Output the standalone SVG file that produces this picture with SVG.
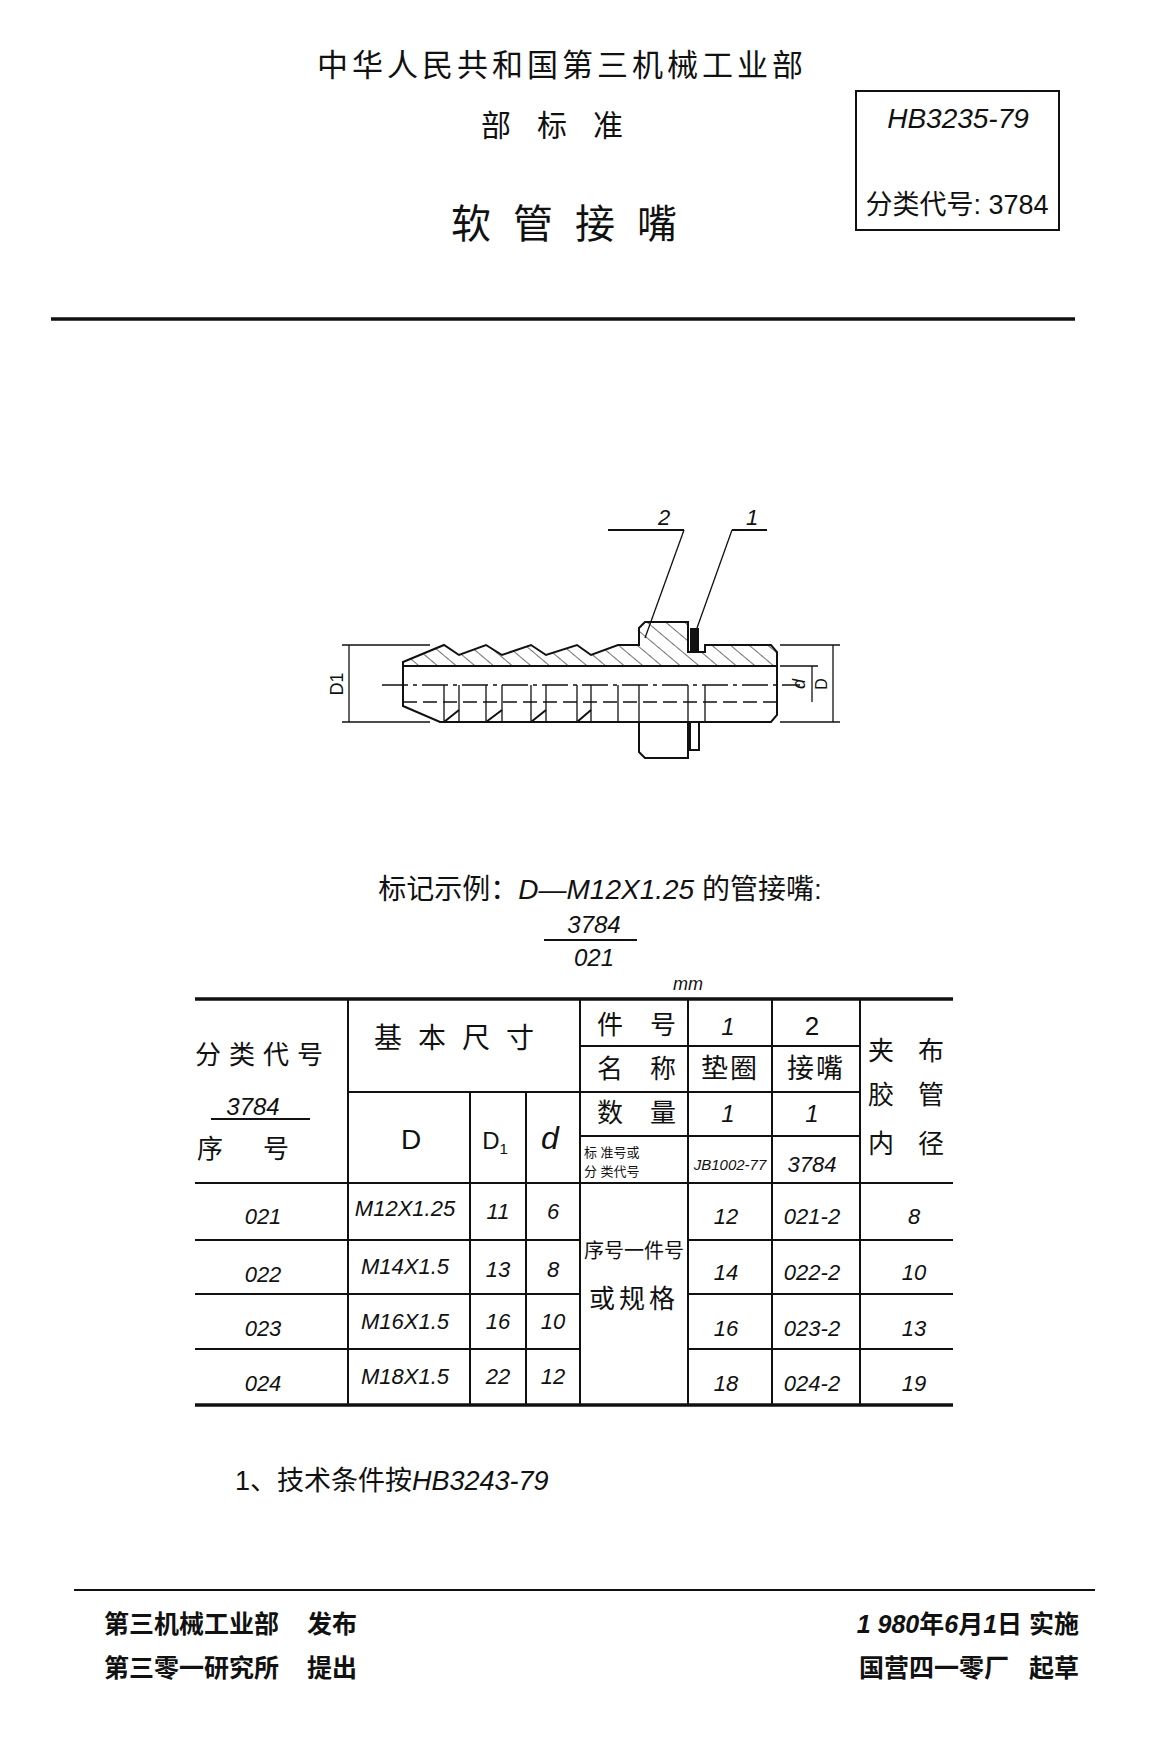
<svg xmlns="http://www.w3.org/2000/svg" width="1152" height="1739" viewBox="0 0 1152 1739">
<defs>
<style>
text{font-family:"Liberation Sans","Noto Sans CJK SC",sans-serif;fill:#111}
.c{text-anchor:middle}
.l{stroke:#111;stroke-width:2;fill:none}
.t{stroke:#111;stroke-width:3.5;fill:none}
.th{stroke:#111;stroke-width:1.3;fill:none}
</style>
<pattern id="h" width="12" height="12" patternUnits="userSpaceOnUse" patternTransform="rotate(-50)">
<line x1="0" y1="0" x2="0" y2="12" stroke="#111" stroke-width="1.2"/>
</pattern>
</defs>
<rect width="1152" height="1739" fill="#fff"/>
<g id="header">
<text x="562" y="76" class="c" font-size="31" letter-spacing="4">中华人民共和国第三机械工业部</text>
<text x="565" y="136" class="c" font-size="30" letter-spacing="26">部标准</text>
<text x="575" y="238" class="c" font-size="40" letter-spacing="22">软管接嘴</text>
<rect x="856" y="91" width="203" height="139" class="l"/>
<text x="958" y="128" class="c" font-size="28" font-style="italic">HB3235-79</text>
<text x="957" y="214" class="c" font-size="27">分类代号: 3784</text>
<line x1="51" y1="319" x2="1075" y2="319" class="t"/>
</g>
<g id="drawing" transform="translate(10,10)">
<path d="M393 656 L393 652 L434 635 L449 645 L476 635 L492 645 L521 635 L536 645 L567 635 L581 645 L608 635 L629 635 L629 618 L635 612 L678 612 L678 642 L695 642 L695 635 L761 635 L767 642 L767 656 Z" fill="url(#h)" stroke="#111" stroke-width="2"/>
<rect x="680" y="618" width="9" height="24" fill="#111"/>
<path d="M393 656 L393 696 L430 712 L761 712 L767 705 L767 656" class="l"/>
<line x1="393" y1="656" x2="767" y2="656" class="l"/>
<path d="M629 712 L629 742 L635 748 L678 748 L678 712" class="l"/>
<path d="M680 712 L680 740 L689 740 L689 712" class="l"/>
<path d="M434 712 L449 700 M476 712 L492 700 M521 712 L536 700 M567 712 L581 700" class="l"/>
<path d="M449 675 L449 712 M492 675 L492 712 M536 675 L536 712 M581 675 L581 712 M608 675 L608 712 M629 675 L629 712 M678 675 L678 712 M695 675 L695 712 M434 675 L434 712 M476 675 L476 712 M521 675 L521 712 M567 675 L567 712" class="th"/>
<line x1="393" y1="692" x2="767" y2="692" class="th" stroke-dasharray="14 6"/>
<line x1="372" y1="675" x2="790" y2="675" class="th" stroke-dasharray="26 5 4 5"/>
<line x1="598" y1="520" x2="674" y2="520" class="l"/>
<line x1="674" y1="520" x2="635" y2="628" class="th"/>
<text x="654" y="515" class="c" font-size="22" font-style="italic">2</text>
<line x1="722" y1="520" x2="757" y2="520" class="l"/>
<line x1="722" y1="520" x2="687" y2="618" class="th"/>
<text x="742" y="515" class="c" font-size="22" font-style="italic">1</text>
<line x1="332" y1="635" x2="420" y2="635" class="th"/>
<line x1="332" y1="712" x2="420" y2="712" class="th"/>
<line x1="339" y1="635" x2="339" y2="712" class="th"/>
<text x="0" y="0" transform="translate(333,674) rotate(-90)" class="c" font-size="18" font-family="Liberation Serif,serif">D1</text>
<line x1="770" y1="635" x2="830" y2="635" class="th"/>
<line x1="770" y1="712" x2="830" y2="712" class="th"/>
<line x1="823" y1="635" x2="823" y2="712" class="th"/>
<line x1="770" y1="656" x2="808" y2="656" class="th"/>
<line x1="802" y1="656" x2="802" y2="692" class="th"/>
<text x="0" y="0" transform="translate(795,674) rotate(-90)" class="c" font-size="18" font-style="italic">d</text>
<text x="0" y="0" transform="translate(817,674) rotate(-90)" class="c" font-size="16" font-family="Liberation Serif,serif">D</text>
</g>
<g id="marking">
<text x="600" y="899" class="c" font-size="28">标记示例：<tspan font-style="italic">D—M12X1.25</tspan> 的管接嘴:</text>
<text x="594" y="933" class="c" font-size="24" font-style="italic">3784</text>
<line x1="544" y1="940" x2="637" y2="940" class="l"/>
<text x="594" y="966" class="c" font-size="24" font-style="italic">021</text>
<text x="688" y="990" class="c" font-size="18" font-style="italic" font-family="Liberation Serif,serif">mm</text>
</g>
<g id="table">
<line x1="195" y1="999" x2="953" y2="999" class="t"/>
<line x1="195" y1="1405" x2="953" y2="1405" class="t"/>
<line x1="195" y1="1183" x2="953" y2="1183" class="l"/>
<line x1="195" y1="1240" x2="580" y2="1240" class="l"/><line x1="688" y1="1240" x2="953" y2="1240" class="l"/>
<line x1="195" y1="1294" x2="580" y2="1294" class="l"/><line x1="688" y1="1294" x2="953" y2="1294" class="l"/>
<line x1="195" y1="1349" x2="580" y2="1349" class="l"/><line x1="688" y1="1349" x2="953" y2="1349" class="l"/>
<line x1="580" y1="1046" x2="860" y2="1046" class="l"/>
<line x1="348" y1="1092" x2="860" y2="1092" class="l"/>
<line x1="580" y1="1136" x2="860" y2="1136" class="l"/>
<line x1="348" y1="999" x2="348" y2="1405" class="l"/>
<line x1="470" y1="1092" x2="470" y2="1405" class="l"/>
<line x1="526" y1="1092" x2="526" y2="1405" class="l"/>
<line x1="580" y1="999" x2="580" y2="1405" class="l"/>
<line x1="688" y1="999" x2="688" y2="1405" class="l"/>
<line x1="772" y1="999" x2="772" y2="1405" class="l"/>
<line x1="860" y1="999" x2="860" y2="1405" class="l"/>
<text x="263" y="1064" class="c" font-size="26" letter-spacing="8">分类代号</text>
<text x="253" y="1115" class="c" font-size="24" font-style="italic">3784</text>
<line x1="211" y1="1119" x2="310" y2="1119" class="l"/>
<text x="263" y="1158" class="c" font-size="26" letter-spacing="40">序号</text>
<text x="462" y="1048" class="c" font-size="28" letter-spacing="16">基本尺寸</text>
<text x="411" y="1149" class="c" font-size="28" font-family="Liberation Serif,serif">D</text>
<text x="495" y="1149" class="c" font-size="24" font-family="Liberation Serif,serif">D<tspan font-size="15" dy="5">1</tspan></text>
<text x="550" y="1149" class="c" font-size="32" font-style="italic" font-family="Liberation Serif,serif">d</text>
<text x="597" y="1034" font-size="26">件</text><text x="650" y="1034" font-size="26">号</text>
<text x="597" y="1078" font-size="26">名</text><text x="650" y="1078" font-size="26">称</text>
<text x="597" y="1122" font-size="26">数</text><text x="650" y="1122" font-size="26">量</text>
<text x="584" y="1157" font-size="13">标  准号或</text>
<text x="584" y="1176" font-size="13">分  类代号</text>
<text x="728" y="1035" class="c" font-size="24" font-style="italic">1</text>
<text x="812" y="1035" class="c" font-size="26">2</text>
<text x="730" y="1078" class="c" font-size="27" letter-spacing="2">垫圈</text>
<text x="816" y="1078" class="c" font-size="27" letter-spacing="2">接嘴</text>
<text x="728" y="1122" class="c" font-size="24" font-style="italic">1</text>
<text x="812" y="1122" class="c" font-size="24" font-style="italic">1</text>
<text x="730" y="1170" class="c" font-size="15" font-style="italic">JB1002-77</text>
<text x="812" y="1172" class="c" font-size="22" font-style="italic">3784</text>
<text x="881" y="1060" class="c" font-size="26">夹</text><text x="931" y="1060" class="c" font-size="26">布</text>
<text x="881" y="1104" class="c" font-size="26">胶</text><text x="931" y="1104" class="c" font-size="26">管</text>
<text x="881" y="1153" class="c" font-size="26">内</text><text x="931" y="1153" class="c" font-size="26">径</text>
<text x="634" y="1258" class="c" font-size="20">序号一件号</text>
<text x="634" y="1308" class="c" font-size="26" letter-spacing="4">或规格</text>
<g font-size="22" font-style="italic">
<text x="263" y="1224" class="c">021</text><text x="405" y="1216" class="c">M12X1.25</text><text x="498" y="1219" class="c">11</text><text x="553" y="1219" class="c">6</text><text x="726" y="1224" class="c">12</text><text x="812" y="1224" class="c">021-2</text><text x="914" y="1224" class="c">8</text>
<text x="263" y="1282" class="c">022</text><text x="405" y="1274" class="c">M14X1.5</text><text x="498" y="1277" class="c">13</text><text x="553" y="1277" class="c">8</text><text x="726" y="1280" class="c">14</text><text x="812" y="1280" class="c">022-2</text><text x="914" y="1280" class="c">10</text>
<text x="263" y="1336" class="c">023</text><text x="405" y="1329" class="c">M16X1.5</text><text x="498" y="1329" class="c">16</text><text x="553" y="1329" class="c">10</text><text x="726" y="1336" class="c">16</text><text x="812" y="1336" class="c">023-2</text><text x="914" y="1336" class="c">13</text>
<text x="263" y="1391" class="c">024</text><text x="405" y="1384" class="c">M18X1.5</text><text x="498" y="1384" class="c">22</text><text x="553" y="1384" class="c">12</text><text x="726" y="1391" class="c">18</text><text x="812" y="1391" class="c">024-2</text><text x="914" y="1391" class="c">19</text>
</g>
</g>
<g id="notes">
<text x="235" y="1490" font-size="27">1、技术条件按<tspan font-style="italic">HB3243-79</tspan></text>
<line x1="74" y1="1590" x2="1095" y2="1590" class="l"/>
<text x="104" y="1633" font-size="25" font-weight="bold">第三机械工业部<tspan dx="28">发布</tspan></text>
<text x="104" y="1677" font-size="25" font-weight="bold">第三零一研究所<tspan dx="28">提出</tspan></text>
<text x="1079" y="1633" font-size="25" font-weight="bold" text-anchor="end"><tspan font-style="italic">1 980</tspan>年<tspan font-style="italic">6</tspan>月<tspan font-style="italic">1</tspan>日 实施</text>
<text x="1079" y="1677" font-size="25" font-weight="bold" text-anchor="end">国营四一零厂<tspan dx="20">起草</tspan></text>
</g>
</svg>
